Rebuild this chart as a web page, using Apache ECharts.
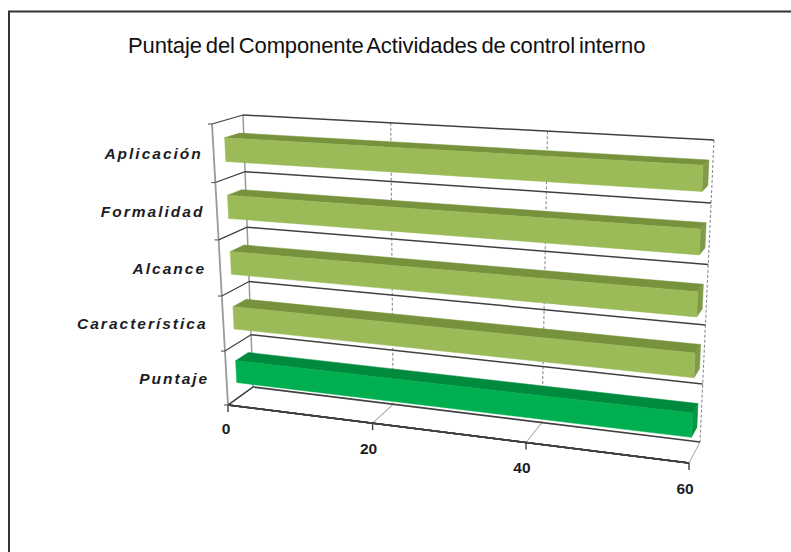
<!DOCTYPE html>
<html><head><meta charset="utf-8">
<style>
html,body{margin:0;padding:0;background:#fff}
#c{width:791px;height:552px}
svg text[style*="italic"]{letter-spacing:2px}
svg text:not([style*="bold"]){letter-spacing:-.12px;word-spacing:-2px}
</style>
<script src="https://cdn.jsdelivr.net/npm/echarts@6/dist/echarts.min.js"></script>
</head><body><div id="c"></div>
<script>
const titleText = 'Puntaje del Componente Actividades de control interno';
const categories = ['Puntaje','Característica','Alcance','Formalidad','Aplicación'];
const values = [59.7,59.7,59.7,59.7,59.7];
const valueTicks = [0,20,40,60];
const barColors = [['#00B050','#008A3E','#00963F'],['#9BBB59','#76923C','#7F9A48'],['#9BBB59','#76923C','#7F9A48'],['#9BBB59','#76923C','#7F9A48'],['#9BBB59','#76923C','#7F9A48']];

// Projection of the flat plot plane into the 3D box of the picture: [depth][vertical][horizontal]
const box = [
  [[[212,124],[702,150]],[[228,405],[689,463]]],
  [[[243,115],[714,140]],[[253,387],[700,442]]]
];
const warpU = 0.094, warpV = -0.05;
const barFront = 0.38, barBack = 0.87, barBand = 0.41;
function lerp(a,b,t){return a+(b-a)*t;}
function project(rect,px,py,d){
  const u0=(px-rect.x)/rect.width, v0=(py-rect.y)/rect.height;
  const u=u0/(1+warpU*(1-u0)), v=v0/(1+warpV*(1-v0));
  const r=[];
  for(let k=0;k<2;k++){
    const f=lerp(lerp(box[0][0][0][k],box[0][0][1][k],u),lerp(box[0][1][0][k],box[0][1][1][k],u),v);
    const b=lerp(lerp(box[1][0][0][k],box[1][0][1][k],u),lerp(box[1][1][0][k],box[1][1][1][k],u),v);
    r.push(lerp(f,b,d));
  }
  return r;
}
function seg(a,b,stroke,lineWidth,dash){
  return {type:'line',silent:true,shape:{x1:a[0],y1:a[1],x2:b[0],y2:b[1]},
    style:{stroke,lineWidth,lineDash:dash||null,fill:null}};
}
function poly(points,fill){
  return {type:'polygon',silent:true,shape:{points},style:{fill,stroke:fill,lineWidth:0.5}};
}
const DARK='#404040', GREY='#9a9a9a';

function renderTick(params,api){
  const rect=params.coordSys;
  const p=api.coord([api.value(0),0]);
  const yT=rect.y, yB=rect.y+rect.height, x=p[0];
  const val=api.value(0);
  const kids=[];
  const fb=project(rect,x,yB,0), bb=project(rect,x,yB,1), bt=project(rect,x,yT,1);
  if(val===0){
    kids.push(seg(bt,bb,GREY,1.5));
    kids.push(seg(project(rect,x,yT,0),fb,GREY,1.8));
    kids.push(seg(fb,bb,DARK,1.2));
  }else{
    kids.push(seg(bt,bb,'#8c8c8c',1.1,[3,2]));
    kids.push(seg(fb,bb,'#b0b0b0',1.1));
  }
  kids.push(seg(fb,[fb[0],fb[1]+7],DARK,1.4));
  kids.push({type:'text',silent:true,style:{text:String(val),x:fb[0]-(val===0?2:4),y:fb[1]+(val===0?23:25),
    fill:'#1c1c24',font:'bold 15.5px "Liberation Sans"',align:'center',verticalAlign:'middle'}});
  return {type:'group',children:kids};
}
function renderCat(params,api){
  const rect=params.coordSys;
  const i=api.value(1);
  const p=api.coord([0,i]), band=api.size([0,1])[1];
  const x0=rect.x, x1=rect.x+rect.width, kids=[];
  const edges=[p[1]-band/2];
  if(i===0) edges.push(p[1]+band/2);
  edges.forEach(function(y){
    kids.push(seg(project(rect,x0,y,1),project(rect,x1,y,1),DARK,1.5));
    const f=project(rect,x0,y,0);
    kids.push(seg(f,project(rect,x0,y,1),DARK,1.2));
    kids.push(seg([f[0]-4,f[1]],f,'#666',1.2));
  });
  kids.push(seg(project(rect,x0,rect.y+rect.height,0),project(rect,x1,rect.y+rect.height,0),DARK,1.6));
  const v=(p[1]-rect.y)/rect.height;
  kids.push({type:'text',silent:true,style:{text:categories[i],x:202+8*v,y:project(rect,x0,p[1],0)[1],
    fill:'#1c1c24',font:'italic bold 15.5px "Liberation Sans"',align:'right',verticalAlign:'middle'}});
  return {type:'group',children:kids};
}
function renderBar(params,api){
  const rect=params.coordSys;
  const i=api.value(1);
  const s=api.coord([0,i]), e=api.coord([api.value(0),i]);
  const h=api.size([0,1])[1]*barBand/2;
  const top=s[1]-h, bot=s[1]+h, c=barColors[i];
  const P=(x,y,d)=>project(rect,x,y,d);
  return {type:'group',children:[
    poly([P(s[0],top,barBack),P(e[0],top,barBack),P(e[0],top,barFront),P(s[0],top,barFront)],c[1]),
    poly([P(e[0],top,barFront),P(e[0],top,barBack),P(e[0],bot,barBack),P(e[0],bot,barFront)],c[2]),
    poly([P(s[0],top,barFront),P(e[0],top,barFront),P(e[0],bot,barFront),P(s[0],bot,barFront)],c[0])
  ]};
}
const chart=echarts.init(document.getElementById('c'),null,{renderer:'svg'});
chart.setOption({
  animation:false,
  backgroundColor:'#fff',
  title:{text:titleText,left:128,top:34,padding:0,
    textStyle:{fontFamily:'"Liberation Sans"',fontWeight:'normal',fontSize:22,color:'#111'}},
  grid:{left:100,top:100,width:500,height:300},
  xAxis:{type:'value',min:0,max:60,interval:20,show:false},
  yAxis:{type:'category',data:categories,show:false},
  graphic:[
    {type:'line',silent:true,shape:{x1:8,y1:11.5,x2:791,y2:11.5},style:{stroke:'#333',lineWidth:2}},
    {type:'line',silent:true,shape:{x1:9,y1:11,x2:9,y2:552},style:{stroke:'#333',lineWidth:2}}
  ],
  series:[
    {type:'custom',coordinateSystem:'cartesian2d',clip:false,silent:true,renderItem:renderTick,
      encode:{x:0,y:1},data:valueTicks.map(t=>[t,0]),z:1},
    {type:'custom',coordinateSystem:'cartesian2d',clip:false,silent:true,renderItem:renderCat,
      encode:{x:0,y:1},data:categories.map((c,i)=>[0,i]),z:2},
    {type:'custom',coordinateSystem:'cartesian2d',clip:false,silent:true,renderItem:renderBar,
      encode:{x:0,y:1},data:values.map((v,i)=>[v,i]),z:3}
  ]
});
</script></body></html>
